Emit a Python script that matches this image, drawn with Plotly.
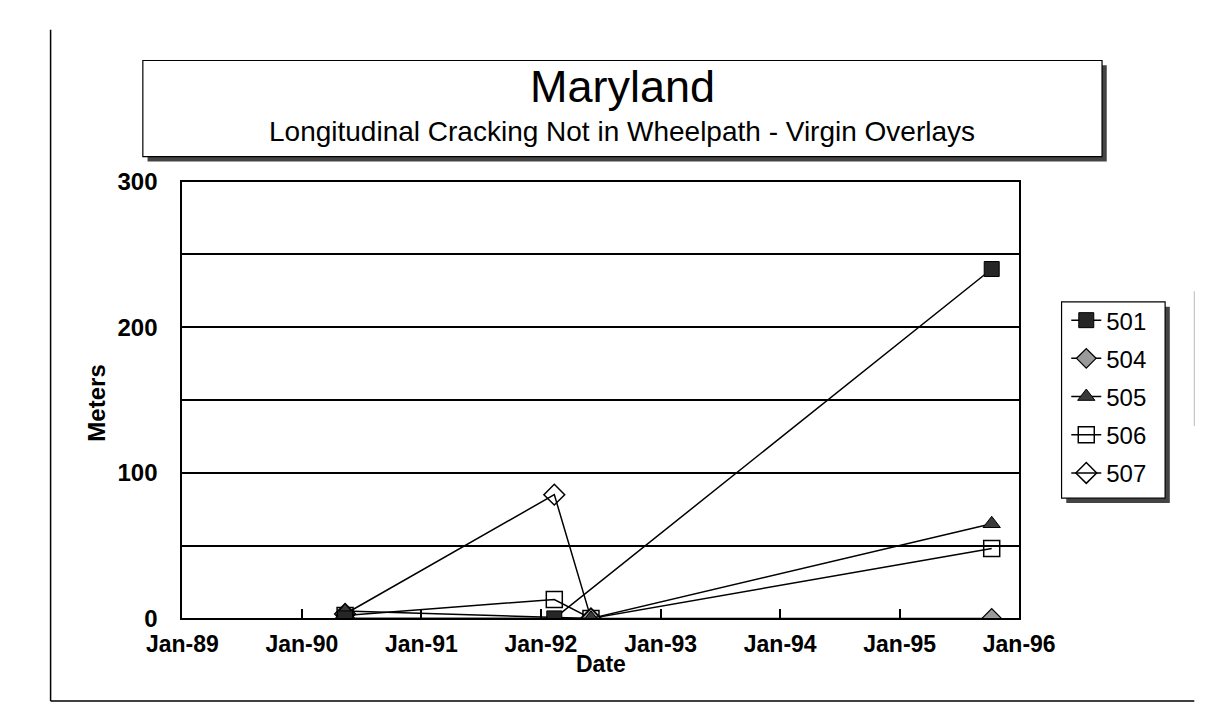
import plotly.graph_objects as go

# ---- data ----
series_names = ["501", "504", "505", "506", "507"]
dates_501 = ["1990-05-13", "1992-02-11", "1995-10-09"]
vals_501 = [0, 0, 240]
dates_504 = ["1990-05-13", "1992-06-02", "1995-10-09"]
vals_504 = [0, 0, 0]
dates_505 = ["1990-05-13", "1992-06-02", "1995-10-09"]
vals_505 = [5, 0, 65]
dates_506 = ["1990-05-13", "1992-02-11", "1992-06-02", "1995-10-09"]
vals_506 = [2, 13, 0, 48]
dates_507 = ["1990-05-13", "1992-02-11", "1992-06-02"]
vals_507 = [3, 85, 0]

x_tick_dates = ["1989-01-01", "1990-01-01", "1991-01-01", "1992-01-01",
                "1993-01-01", "1994-01-01", "1995-01-01", "1996-01-01"]
x_tick_labels = ["Jan-89", "Jan-90", "Jan-91", "Jan-92", "Jan-93", "Jan-94", "Jan-95", "Jan-96"]
y_tick_vals = [0, 100, 200, 300]
y_grid_minor = [50, 150, 250]

title_text = "Maryland"
subtitle_text = "Longitudinal Cracking Not in Wheelpath - Virgin Overlays"

W, H = 1227, 709
FONT = "Liberation Sans, Arial, Helvetica, sans-serif"

def px_x(v):
    return v / W

def px_y(v):
    return 1 - v / H

plot_l, plot_r, plot_t, plot_b = 147, 1036, 166, 620

styles = {
    "501": dict(symbol="square", size=15, color="#262626", line=dict(color="black", width=1)),
    "504": dict(symbol="diamond", size=15, color="#9a9a9a", line=dict(color="black", width=1.3)),
    "505": dict(symbol="triangle-up", size=15, color="#3a3a3a", line=dict(color="black", width=1)),
    "506": dict(symbol="square-open", size=16, color="black", line=dict(color="black", width=1.5)),
    "507": dict(symbol="diamond-open", size=16, color="black", line=dict(color="black", width=1.5)),
}
data_map = {
    "501": (dates_501, vals_501),
    "504": (dates_504, vals_504),
    "505": (dates_505, vals_505),
    "506": (dates_506, vals_506),
    "507": (dates_507, vals_507),
}
draw_order = ["507", "506", "504", "505", "501"]

fig = go.Figure()
for name in draw_order:
    xs, ys = data_map[name]
    fig.add_trace(go.Scatter(
        x=xs, y=ys, name=name, mode="lines+markers",
        line=dict(color="black", width=1.5),
        marker=styles[name],
        legendgroup=name,
        legendrank=1 + series_names.index(name),
    ))

def rect(x0, y0, x1, y1, fill, line_color=None, lw=0, layer="below"):
    return dict(type="rect", xref="paper", yref="paper",
                x0=px_x(x0), x1=px_x(x1), y0=px_y(y0), y1=px_y(y1),
                fillcolor=fill, layer=layer,
                line=dict(color=line_color or fill, width=lw))

def hline(x0, x1, y, color="black", w=1.5):
    return dict(type="line", xref="paper", yref="paper", x0=px_x(x0), x1=px_x(x1),
                y0=px_y(y), y1=px_y(y), line=dict(color=color, width=w))

def vline(x, y0, y1, color="black", w=1.5):
    return dict(type="line", xref="paper", yref="paper", x0=px_x(x), x1=px_x(x),
                y0=px_y(y0), y1=px_y(y1), line=dict(color=color, width=w))

shapes = [
    # outer frame
    vline(7, 8, 706),
    hline(7, 1222, 706),
    vline(1222, 280, 420, color="#bbbbbb", w=1),
    # title box with shadow
    rect(110, 45, 1129, 145, "#444444"),
    rect(105, 40, 1124, 140, "white", "black", 1.2),
    # legend box with shadow
    rect(1086, 296, 1196, 500, "#444444"),
    rect(1081, 291, 1191, 495, "white", "black", 1.2),
]

annotations = [
    dict(text=title_text, x=px_x(615), y=px_y(67), xref="paper", yref="paper", showarrow=False,
         font=dict(family=FONT, size=45, color="black"), xanchor="center", yanchor="middle"),
    dict(text=subtitle_text, x=px_x(614), y=px_y(114), xref="paper", yref="paper", showarrow=False,
         font=dict(family=FONT, size=28, color="black"), xanchor="center", yanchor="middle"),
    dict(text="<b>Meters</b>", x=px_x(56), y=px_y(396), xref="paper", yref="paper", showarrow=False,
         textangle=-90, font=dict(family=FONT, size=24, color="black"), xanchor="center", yanchor="middle"),
    dict(text="<b>Date</b>", x=px_x(592), y=px_y(667), xref="paper", yref="paper", showarrow=False,
         font=dict(family=FONT, size=23, color="black"), xanchor="center", yanchor="middle"),
]

fig.update_layout(
    width=W, height=H,
    margin=dict(l=0, r=0, t=0, b=0),
    paper_bgcolor="white", plot_bgcolor="white",
    font=dict(family=FONT, color="black"),
    showlegend=True,
    legend=dict(x=px_x(1086), y=px_y(287), xanchor="left", yanchor="top",
                bgcolor="rgba(0,0,0,0)", borderwidth=0,
                font=dict(family=FONT, size=24, color="black"),
                tracegroupgap=4, itemwidth=30, traceorder="grouped"),
    shapes=shapes,
    annotations=annotations,
    xaxis=dict(domain=[px_x(plot_l), px_x(plot_r)], type="date",
               range=["1989-01-01", "1996-01-01"],
               tickmode="array", tickvals=x_tick_dates, ticktext=x_tick_labels,
               tickfont=dict(family=FONT, size=23, color="black", weight="bold"),
               ticks="inside", ticklen=9, tickwidth=1.5, tickcolor="black",
               ticklabelstandoff=4,
               showgrid=False, showline=True, linecolor="black", linewidth=2, mirror=True,
               zeroline=False),
    yaxis=dict(domain=[px_y(plot_b), px_y(plot_t)], range=[0, 300],
               tickmode="array", tickvals=y_tick_vals, ticktext=[str(v) for v in y_tick_vals],
               tickfont=dict(family=FONT, size=24, color="black", weight="bold"),
               ticks="", ticklabelstandoff=18,
               showgrid=True, gridcolor="black", gridwidth=2,
               minor=dict(tickmode="array", tickvals=y_grid_minor, showgrid=True,
                          gridcolor="black", gridwidth=2, ticks=""),
               showline=True, linecolor="black", linewidth=2, mirror=True,
               zeroline=False),
)

fig.write_html("out.html")
